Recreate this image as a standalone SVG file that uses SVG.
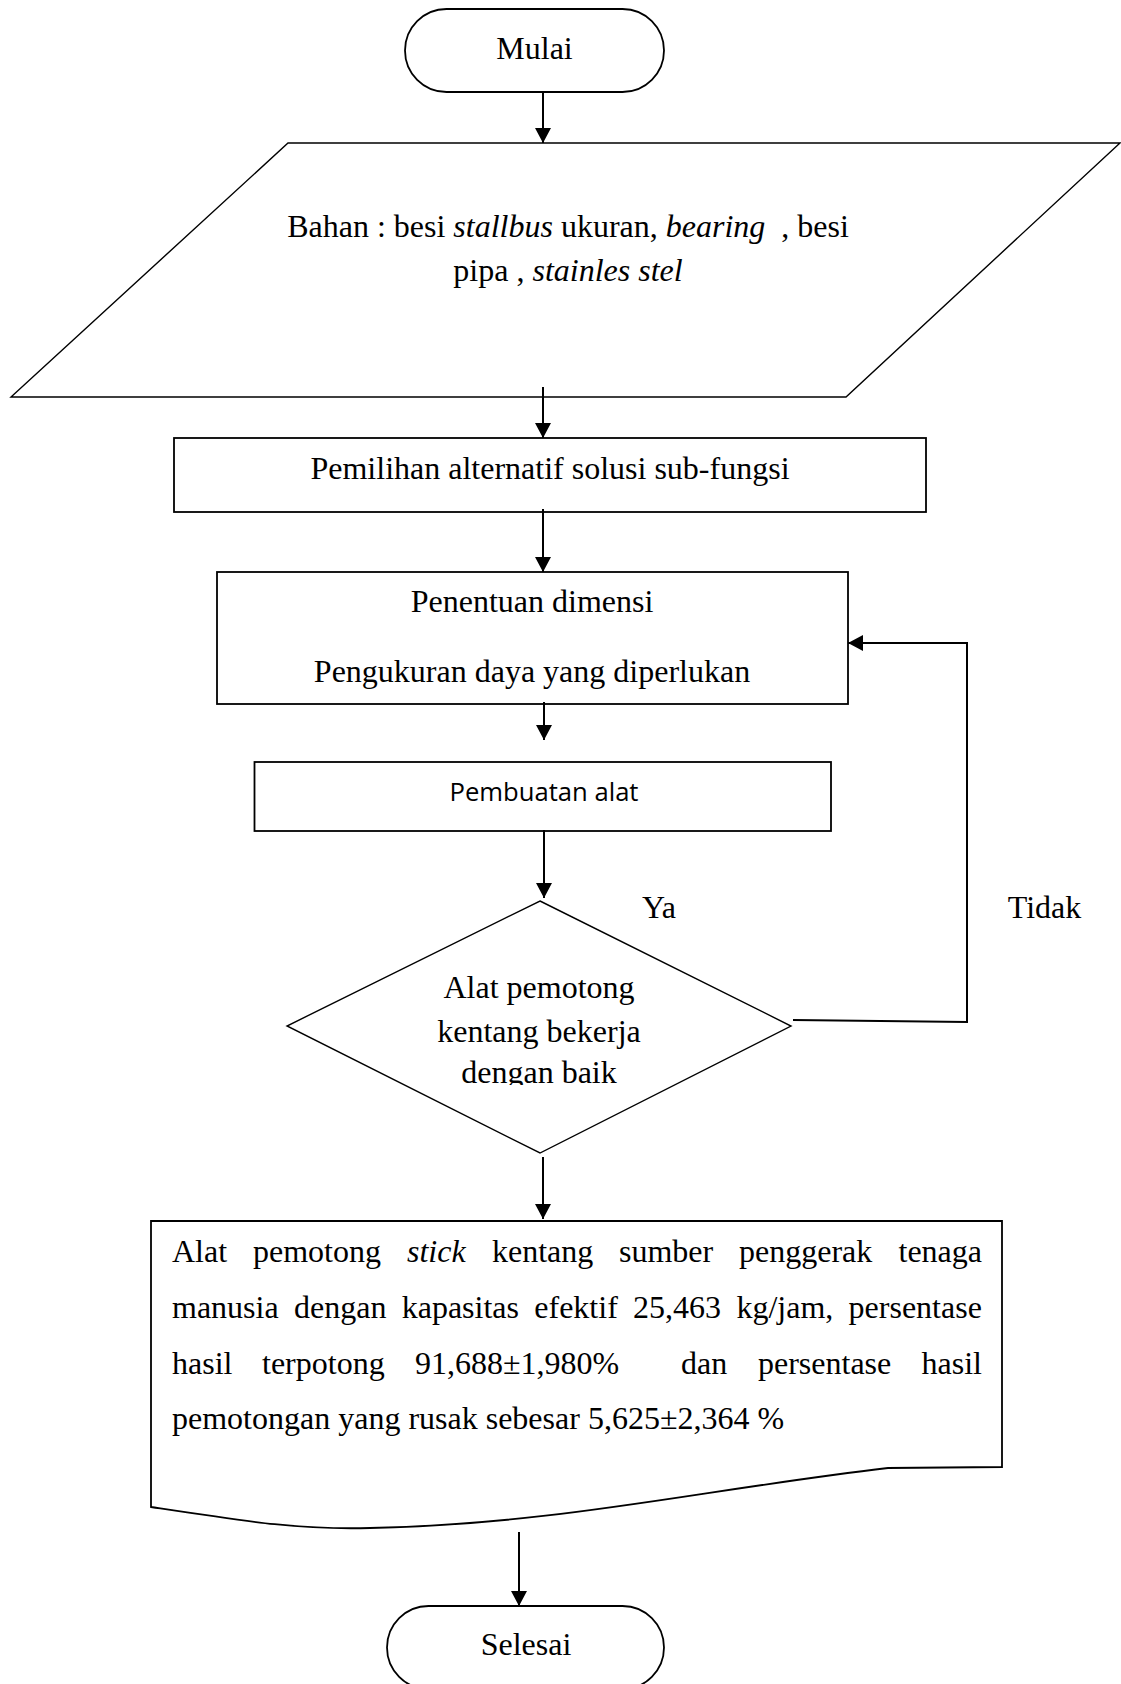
<svg xmlns="http://www.w3.org/2000/svg" width="1121" height="1684" viewBox="0 0 1121 1684">
<style>
.shape{fill:#fff;stroke:#000;stroke-width:1.8;}
.thin{fill:#fff;stroke:#000;stroke-width:1.4;}
.conn{fill:none;stroke:#000;stroke-width:2;}
.t{font-family:"Liberation Serif","Times New Roman",serif;font-size:32px;fill:#000;}
.c{text-anchor:middle;}
.i{font-style:italic;}
.s{font-family:"Open Sans","Liberation Sans",sans-serif;font-size:25px;fill:#000;}
</style>
<defs>
<marker id="arr" markerUnits="userSpaceOnUse" markerWidth="16" markerHeight="16" refX="15" refY="8" orient="auto">
<path d="M0,0 L15,8 L0,16 z" fill="#000"/>
</marker>
<clipPath id="dclip"><rect x="280" y="950" width="520" height="135"/></clipPath>
</defs>
<rect width="1121" height="1684" fill="#fff"/>

<g id="n-mulai">
<rect class="shape" x="405" y="9" width="259" height="83" rx="41.5" ry="41.5"/>
<text class="t c" x="534.5" y="59">Mulai</text>
</g>

<g id="n-bahan">
<polygon class="thin" points="288,143 1120,143 846,397 11,397"/>
<text class="t c" x="568" y="237" xml:space="preserve">Bahan : besi <tspan class="i">stallbus</tspan> ukuran, <tspan class="i">bearing</tspan>  , besi</text>
<text class="t c" x="568" y="281" xml:space="preserve">pipa , <tspan class="i">stainles stel</tspan></text>
</g>

<g id="n-pemilihan">
<rect class="shape" x="174" y="438" width="752" height="74"/>
<text class="t c" x="550" y="479">Pemilihan alternatif solusi sub-fungsi</text>
</g>

<g id="n-penentuan">
<rect class="shape" x="217" y="572" width="631" height="132"/>
<text class="t c" x="532" y="612">Penentuan dimensi</text>
<text class="t c" x="532" y="682">Pengukuran daya yang diperlukan</text>
</g>

<g id="n-pembuatan">
<rect class="shape" x="254.5" y="762" width="576.5" height="69"/>
<text class="s c" x="544" y="801" textLength="189" lengthAdjust="spacingAndGlyphs">Pembuatan alat</text>
</g>

<g id="n-keputusan">
<polygon class="thin" points="540,901 791,1026 540,1153 287,1026"/>
<g clip-path="url(#dclip)">
<text class="t c" x="539" y="998">Alat pemotong</text>
<text class="t c" x="539" y="1041.5">kentang bekerja</text>
<text class="t c" x="539" y="1083">dengan baik</text>
</g>
</g>

<g id="n-hasil">
<path class="shape" d="M151,1221 H1002 V1467 L888,1468 C700,1490 560,1524 370,1528 C300,1530 250,1522 151,1507 Z"/>
<text class="t" y="1262"><tspan x="172">Alat</tspan><tspan x="253">pemotong</tspan><tspan x="407" class="i">stick</tspan><tspan x="492">kentang</tspan><tspan x="619">sumber</tspan><tspan x="739">penggerak</tspan><tspan x="898.5">tenaga</tspan></text>
<text class="t" y="1318"><tspan x="172">manusia</tspan><tspan x="294">dengan</tspan><tspan x="401.7">kapasitas</tspan><tspan x="534.3">efektif</tspan><tspan x="633">25,463</tspan><tspan x="736.4">kg/jam,</tspan><tspan x="848.6">persentase</tspan></text>
<text class="t" y="1374"><tspan x="172">hasil</tspan><tspan x="262">terpotong</tspan><tspan x="415">91,688±1,980%</tspan><tspan x="681">dan</tspan><tspan x="758">persentase</tspan><tspan x="921.5">hasil</tspan></text>
<text class="t" x="172" y="1429">pemotongan yang rusak sebesar 5,625±2,364 %</text>
</g>

<g id="n-selesai">
<rect class="shape" x="387" y="1606" width="277" height="83" rx="41.5" ry="41.5"/>
<text class="t c" x="526" y="1655">Selesai</text>
</g>

<g id="connectors">
<line class="conn" x1="543" y1="92" x2="543" y2="143" marker-end="url(#arr)"/>
<line class="conn" x1="543" y1="387" x2="543" y2="438" marker-end="url(#arr)"/>
<line class="conn" x1="543" y1="509" x2="543" y2="572" marker-end="url(#arr)"/>
<line class="conn" x1="544" y1="702" x2="544" y2="740" marker-end="url(#arr)"/>
<line class="conn" x1="544" y1="830" x2="544" y2="898" marker-end="url(#arr)"/>
<line class="conn" x1="543" y1="1157" x2="543" y2="1219" marker-end="url(#arr)"/>
<line class="conn" x1="519" y1="1532" x2="519" y2="1606" marker-end="url(#arr)"/>
<polyline class="conn" points="793,1020 967,1022 967,643 848,643" marker-end="url(#arr)"/>
</g>

<g id="labels">
<text class="t c" x="659" y="918">Ya</text>
<text class="t c" x="1044.5" y="918">Tidak</text>
</g>
</svg>
